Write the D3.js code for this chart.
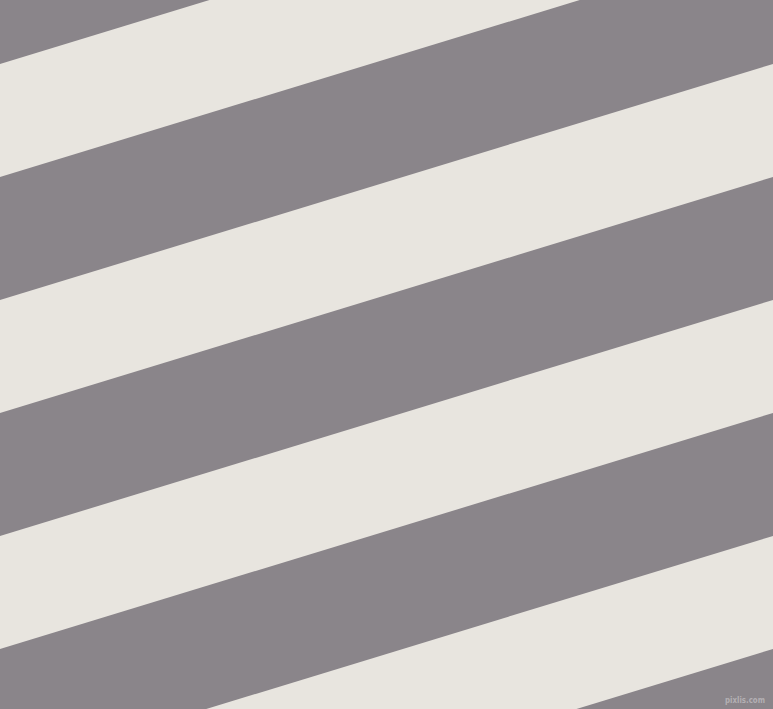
<!DOCTYPE html>
<html>
<head>
<meta charset="utf-8">
<script src="https://cdn.jsdelivr.net/npm/d3@7"></script>
<style>
  html, body { margin: 0; padding: 0; background: #8a858a; }
  svg { display: block; }
</style>
</head>
<body>
<svg id="chart" width="773" height="709"></svg>
<script>
// Data: stripe index, phase of stripe start (in periods) at left edge, stripe fraction
const stripeIndex = [-1, 0, 1, 2, 3, 4];
const stripePhase = 0.271;      // light stripe top boundary at left, in periods
const stripeFraction = 0.479;   // light stripe share of one period
const riseAcross = 1.0;         // stripes rise one full period across the width
const colors = ["#8a858a", "#e8e5df"];
const watermark = ["pixlis.com"];

const W = 773, H = 709;
const svg = d3.select("#chart");

const x = d3.scaleLinear().domain([0, 1]).range([0, W]);
const y = d3.scaleLinear().domain([0, 1]).range([0, 236]);

svg.append("rect").attr("width", W).attr("height", H).attr("fill", colors[0]);

const line = d3.line().x(d => x(d[0])).y(d => y(d[1]));

svg.selectAll("path.stripe")
  .data(stripeIndex)
  .join("path")
  .attr("class", "stripe")
  .attr("fill", colors[1])
  .attr("d", k => {
    const a = k + stripePhase, b = a + stripeFraction;
    return line([[0, a], [1, a - riseAcross], [1, b - riseAcross], [0, b]]) + "Z";
  });

svg.selectAll("text.wm")
  .data(watermark)
  .join("text")
  .attr("class", "wm")
  .attr("x", W - 48)
  .attr("y", H - 6)
  .attr("textLength", 40)
  .attr("lengthAdjust", "spacingAndGlyphs")
  .attr("font-family", "DejaVu Sans, sans-serif")
  .attr("font-size", 8.5)
  .attr("font-weight", "bold")
  .attr("fill", "#d0cdd0")
  .attr("fill-opacity", 0.6)
  .text(d => d);
</script>
</body>
</html>
